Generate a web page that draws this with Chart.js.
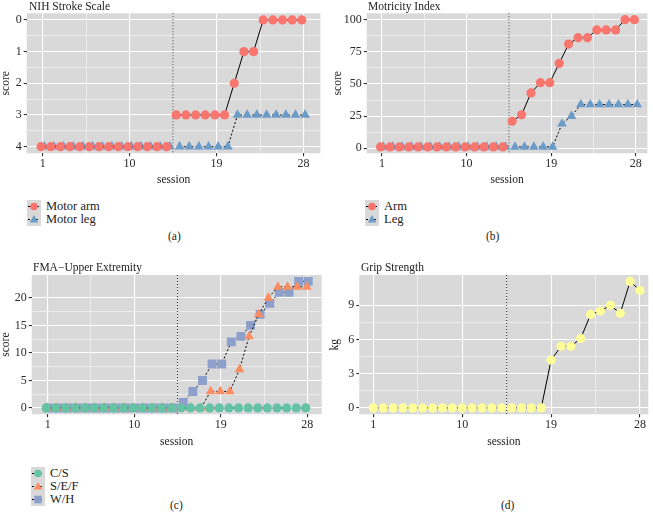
<!DOCTYPE html>
<html>
<head>
<meta charset="utf-8">
<script src="https://cdn.jsdelivr.net/npm/chart.js@4.4.1/dist/chart.umd.min.js"></script>
<style>
body { margin:0; background:#fff; width:653px; height:519px; position:relative; overflow:hidden;
       font-family:"Liberation Serif","DejaVu Serif",serif; color:#222; }
canvas { position:absolute; }
.lbl { position:absolute; font-size:11.5px; line-height:12px; white-space:nowrap; }
.leg { position:absolute; font-size:12.5px; line-height:13px; }
.leg div { height:13px; white-space:nowrap; }
.leg svg { vertical-align:top; margin-right:5px; }
</style>
</head>
<body>
<canvas id="nih" width="326" height="192" style="left:0px;top:0px"></canvas>
<canvas id="mi" width="321" height="192" style="left:332px;top:0px"></canvas>
<canvas id="fma" width="328" height="192" style="left:0px;top:262px"></canvas>
<canvas id="grip" width="324" height="192" style="left:329px;top:262px"></canvas>

<script>
// data
var sessions = [1,2,3,4,5,6,7,8,9,10,11,12,13,14,15,16,17,18,19,20,21,22,23,24,25,26,27,28];
var xTicks = [1,10,19,28];
var phaseEnd = 14; // last session before the dotted line

var nihArm = [4,4,4,4,4,4,4,4,4,4,4,4,4,4,3,3,3,3,3,3,2,1,1,0,0,0,0,0];
var nihLeg = [4,4,4,4,4,4,4,4,4,4,4,4,4,4,4,4,4,4,4,4,3,3,3,3,3,3,3,3];
var nihTicks = [0,1,2,3,4];

var miArm = [1,1,1,1,1,1,1,1,1,1,1,1,1,1,21,26,43,51,51,66,81,86,86,92,92,92,100,100];
var miLeg = [1,1,1,1,1,1,1,1,1,1,1,1,1,1,1,1,1,1,1,19,25,34,34,34,34,34,34,34];
var miTicks = [0,25,50,75,100];

var fmaCS  = [0,0,0,0,0,0,0,0,0,0,0,0,0,0,0,0,0,0,0,0,0,0,0,0,0,0,0,0];
var fmaSEF = [0,0,0,0,0,0,0,0,0,0,0,0,0,0,0,0,0,3,3,3,7,13,17,20,22,22,22,22];
var fmaWH  = [0,0,0,0,0,0,0,0,0,0,0,0,0,0,1,3,5,8,8,12,13,15,17,19,21,21,23,23];
var fmaTicks = [0,5,10,15,20];

var grip = [0,0,0,0,0,0,0,0,0,0,0,0,0,0,0,0,0,0,4.2,5.4,5.4,6.1,8.2,8.5,9.0,8.3,11.1,10.3];
var gripTicks = [0,3,6,9];

var RED = '#f8766d', BLUE = '#6a9bc9', GREEN = '#66c2a5', ORANGE = '#fc8d62', LAV = '#8da0cb', YEL = '#ffff99';
var FAM = '"Liberation Serif","DejaVu Serif",serif';
var TICKFONT = { family: FAM, size: 12 };

function withMinor(ticks) {
  var out = [];
  for (var i = 0; i < ticks.length; i++) {
    out.push(ticks[i]);
    if (i < ticks.length - 1) out.push((ticks[i] + ticks[i + 1]) / 2);
  }
  return out;
}

var panelBg = {
  id: 'panelBg',
  beforeDraw: function(chart) {
    var a = chart.chartArea, ctx = chart.ctx;
    ctx.save();
    ctx.fillStyle = '#d9d9d9';
    ctx.fillRect(a.left, a.top, a.right - a.left, a.bottom - a.top);
    ctx.restore();
  }
};

var phaseLine = {
  id: 'phaseLine',
  beforeDatasetsDraw: function(chart) {
    var a = chart.chartArea, ctx = chart.ctx;
    var x = chart.scales.x.getPixelForValue(phaseEnd + 0.5);
    ctx.save();
    ctx.strokeStyle = '#222';
    ctx.lineWidth = 1;
    ctx.setLineDash([1, 2]);
    ctx.beginPath();
    ctx.moveTo(x, a.top);
    ctx.lineTo(x, a.bottom);
    ctx.stroke();
    ctx.restore();
  }
};

function series(vals, dx, color, shape, radius, dash) {
  return {
    data: vals.map(function(v, i) { return { x: sessions[i] + dx, y: v }; }),
    borderColor: '#000',
    borderWidth: 1,
    borderDash: dash,
    pointStyle: shape,
    pointRadius: radius,
    pointBackgroundColor: color,
    pointBorderWidth: 0,
    fill: false,
    segment: {
      borderColor: function(c) { return c.p0DataIndex === phaseEnd - 1 ? 'rgba(0,0,0,0)' : '#000'; }
    }
  };
}

function axis(ticks, min, max, extra) {
  var all = withMinor(ticks);
  var ax = {
    type: 'linear', min: min, max: max,
    border: { display: false },
    grid: {
      color: '#fff',
      lineWidth: function(c) { return ticks.indexOf(c.tick.value) >= 0 ? 1.1 : 0.5; },
      tickColor: function(c) { return ticks.indexOf(c.tick.value) >= 0 ? '#333' : 'rgba(0,0,0,0)'; },
      tickLength: 3
    },
    ticks: {
      autoSkip: false, maxRotation: 0, color: '#2a2a2a', font: TICKFONT, padding: 2,
      callback: function(v) { return ticks.indexOf(v) >= 0 ? String(v) : ''; }
    },
    afterBuildTicks: function(s) { s.ticks = all.map(function(v) { return { value: v }; }); }
  };
  for (var k in extra) ax[k] = extra[k];
  return ax;
}

function makeChart(id, datasets, p) {
  var xa = axis(xTicks, p.xmin, p.xmax, {
    title: { display: true, text: 'session', color: '#222', font: { family: FAM, size: 11.5, lineHeight: 1 }, padding: { top: 0, bottom: 6 } },
    afterFit: function(s) { s.height = p.xh; }
  });
  xa.ticks.padding = 0;
  var ya = axis(p.yticks, p.ymin, p.ymax, {
    reverse: !!p.reverse,
    title: { display: true, text: p.ytitle, color: '#222', font: { family: FAM, size: 11.5, lineHeight: 1 }, padding: { top: p.ytp, bottom: 0 } },
    afterFit: function(s) { s.width = p.yw; }
  });
  new Chart(document.getElementById(id), {
    type: 'line',
    data: { datasets: datasets },
    options: {
      responsive: false, animation: false,
      layout: { padding: { left: 0, right: p.pr, top: p.pt, bottom: 0 } },
      plugins: { legend: { display: false }, tooltip: { enabled: false } },
      scales: { x: xa, y: ya }
    },
    plugins: [panelBg, phaseLine]
  });
}

makeChart('nih', [
  series(nihArm, -0.17, RED, 'circle', 4.6, []),
  series(nihLeg, 0.17, BLUE, 'triangle', 5.6, [2, 2])
], { xmin: -0.65, xmax: 29.75, ymin: -0.21, ymax: 4.21, reverse: true, yticks: nihTicks,
     ytitle: 'score', ytp: 0, yw: 26.7, xh: 38.7, pr: 5.3, pt: 13.3 });

makeChart('mi', [
  series(miArm, -0.15, RED, 'circle', 4.6, []),
  series(miLeg, 0.15, BLUE, 'triangle', 5.6, [2, 2])
], { xmin: -0.62, xmax: 29.23, ymin: -3.95, ymax: 104.95, yticks: miTicks,
     ytitle: 'score', ytp: 0.5, yw: 34.7, xh: 38.7, pr: 4.7, pt: 13.3 });

makeChart('fma', [
  series(fmaCS, -0.15, GREEN, 'circle', 4.6, [2, 2]),
  series(fmaSEF, -0.05, ORANGE, 'triangle', 5.6, [2, 2]),
  series(fmaWH, 0.1, LAV, 'rect', 6.3, [2, 2])
], { xmin: -0.66, xmax: 29.5, ymin: -1.15, ymax: 24.15, yticks: fmaTicks,
     ytitle: 'score', ytp: 0, yw: 31.7, xh: 39.7, pr: 6.3, pt: 13 });

makeChart('grip', [
  series(grip, 0, YEL, 'circle', 4.6, [])
], { xmin: -0.42, xmax: 28.84, ymin: -0.56, ymax: 11.66, yticks: gripTicks,
     ytitle: 'kg', ytp: 0.5, yw: 30.3, xh: 39.7, pr: 4.7, pt: 13 });

// titles and panel letters
function label(text, left, top) {
  var d = document.createElement('div');
  d.className = 'lbl';
  d.textContent = text;
  d.style.left = left + 'px';
  d.style.top = top + 'px';
  document.body.appendChild(d);
}
label('NIH Stroke Scale', 29, 0);
label('Motricity Index', 368, 0);
label('FMA−Upper Extremity', 33, 261);
label('Grip Strength', 361, 261);
label('(a)', 168, 230);
label('(b)', 486, 230);
label('(c)', 170, 499);
label('(d)', 501, 499);

// legends
function keySvg(color, shape, dash) {
  var m;
  if (shape === 'circle') m = '<circle cx="7" cy="6.5" r="3.8" fill="' + color + '"/>';
  else if (shape === 'triangle') m = '<polygon points="7,2 11.3,9.6 2.7,9.6" fill="' + color + '"/>';
  else m = '<rect x="3.2" y="2.7" width="7.6" height="7.6" fill="' + color + '"/>';
  return '<svg width="14" height="13"><rect width="14" height="13" fill="#d9d9d9"/>' +
    '<line x1="1" y1="6.5" x2="13" y2="6.5" stroke="#000" stroke-width="1" stroke-dasharray="' + dash + '"/>' + m + '</svg>';
}
function legend(left, top, names, colors, shapes, dashes) {
  var d = document.createElement('div');
  d.className = 'leg';
  d.style.left = left + 'px';
  d.style.top = top + 'px';
  var h = '';
  for (var i = 0; i < names.length; i++) h += '<div>' + keySvg(colors[i], shapes[i], dashes[i]) + names[i] + '</div>';
  d.innerHTML = h;
  document.body.appendChild(d);
}
legend(27, 200, ['Motor arm', 'Motor leg'], [RED, BLUE], ['circle', 'triangle'], ['3,1', '2,2']);
legend(365, 200, ['Arm', 'Leg'], [RED, BLUE], ['circle', 'triangle'], ['3,1', '2,2']);
legend(31, 467, ['C/S', 'S/E/F', 'W/H'], [GREEN, ORANGE, LAV], ['circle', 'triangle', 'rect'], ['2,2', '2,2', '2,2']);
</script>
</body>
</html>
